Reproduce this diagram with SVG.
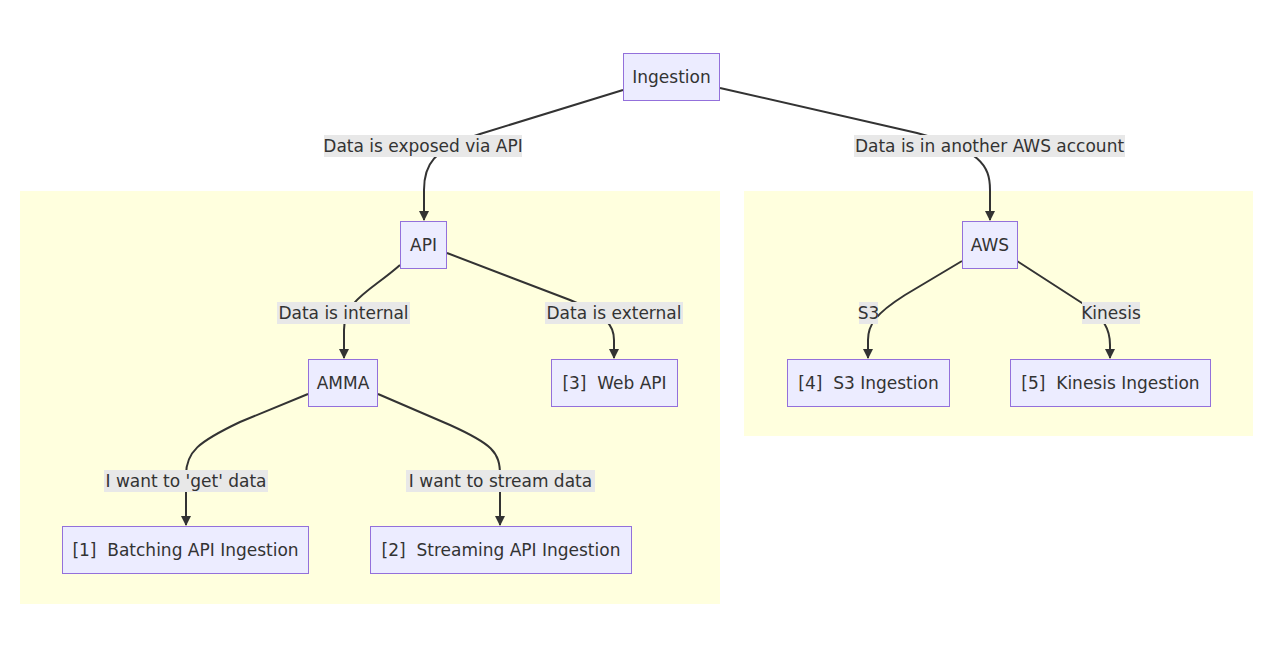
<svg xmlns="http://www.w3.org/2000/svg" width="1279" height="672" viewBox="0 0 1279 672">
<style>
.cluster{fill:#ffffde;stroke:none}
.node rect{fill:#ececff;stroke:#9370db;stroke-width:1}
text{font-family:"DejaVu Sans","Liberation Sans",sans-serif;font-size:17px;fill:#333;text-anchor:middle;dominant-baseline:central;white-space:pre}
.edge{fill:none;stroke:#333;stroke-width:2;marker-end:url(#arr)}
.lbl rect{fill:#e8e8e8}
</style>
<defs>
<marker id="arr" viewBox="0 0 10 10" refX="9" refY="5" markerWidth="5" markerHeight="5" orient="auto" markerUnits="strokeWidth">
<path d="M0,0 L10,5 L0,10 z" fill="#333"/>
</marker>
</defs>
<rect width="1279" height="672" fill="#fff"/>
<g id="clusters">
<rect class="cluster" x="20" y="191" width="700" height="413"/>
<rect class="cluster" x="744" y="191" width="509" height="245"/>
</g>
<g id="connectors">
<path class="edge" d="M623,90 L480,134 C432,150 424,165 424,190 L424,220"/>
<path class="edge" d="M720,88 L917,133 C980,150 990,165 990,190 L990,220"/>
<path class="edge" d="M400,265 C372,290 344,300 344,330 L344,358"/>
<path class="edge" d="M447,253 L570,300 C606,315 614,325 614,340 L614,358"/>
<path class="edge" d="M308,394 L240,422 C198,442 186,452 186,475 L186,525"/>
<path class="edge" d="M378,394 L450,425 C492,444 500,452 500,475 L500,525"/>
<path class="edge" d="M962,261 L905,295 C875,314 868,325 868,340 L868,358"/>
<path class="edge" d="M1017,261 L1082,303 C1105,318 1110,330 1110,345 L1110,358"/>
</g>
<g id="edge-labels">
<g class="lbl"><rect x="324" y="135" width="198" height="22"/><text x="423" y="146">Data is exposed via API</text></g>
<g class="lbl"><rect x="854" y="135" width="271" height="22"/><text x="989.5" y="146">Data is in another AWS account</text></g>
<g class="lbl"><rect x="277" y="302" width="133" height="22"/><text x="343.5" y="313">Data is internal</text></g>
<g class="lbl"><rect x="545" y="302" width="138" height="22"/><text x="614" y="313">Data is external</text></g>
<g class="lbl"><rect x="104" y="470" width="164" height="22"/><text x="186" y="481">I want to 'get' data</text></g>
<g class="lbl"><rect x="406" y="470" width="189" height="22"/><text x="500.5" y="481">I want to stream data</text></g>
<g class="lbl"><rect x="859" y="302" width="19" height="22"/><text x="868.5" y="313">S3</text></g>
<g class="lbl"><rect x="1082" y="302" width="58" height="22"/><text x="1111" y="313">Kinesis</text></g>
</g>
<g id="ingestion" class="node"><rect x="623.5" y="53.5" width="96" height="47"/><text x="671.5" y="77">Ingestion</text></g>
<g id="api" class="node"><rect x="400.5" y="221.5" width="46" height="47"/><text x="423.5" y="245">API</text></g>
<g id="amma" class="node"><rect x="308.5" y="359.5" width="69" height="47"/><text x="343" y="383">AMMA</text></g>
<g id="webapi" class="node"><rect x="551.5" y="359.5" width="126" height="47"/><text x="614.5" y="383">[3]  Web API</text></g>
<g id="batching" class="node"><rect x="62.5" y="526.5" width="246" height="47"/><text x="185.5" y="550">[1]  Batching API Ingestion</text></g>
<g id="streaming" class="node"><rect x="370.5" y="526.5" width="261" height="47"/><text x="501" y="550">[2]  Streaming API Ingestion</text></g>
<g id="aws" class="node"><rect x="962.5" y="221.5" width="55" height="47"/><text x="990" y="245">AWS</text></g>
<g id="s3" class="node"><rect x="787.5" y="359.5" width="162" height="47"/><text x="868.5" y="383">[4]  S3 Ingestion</text></g>
<g id="kinesis" class="node"><rect x="1010.5" y="359.5" width="200" height="47"/><text x="1110.5" y="383">[5]  Kinesis Ingestion</text></g>
</svg>
